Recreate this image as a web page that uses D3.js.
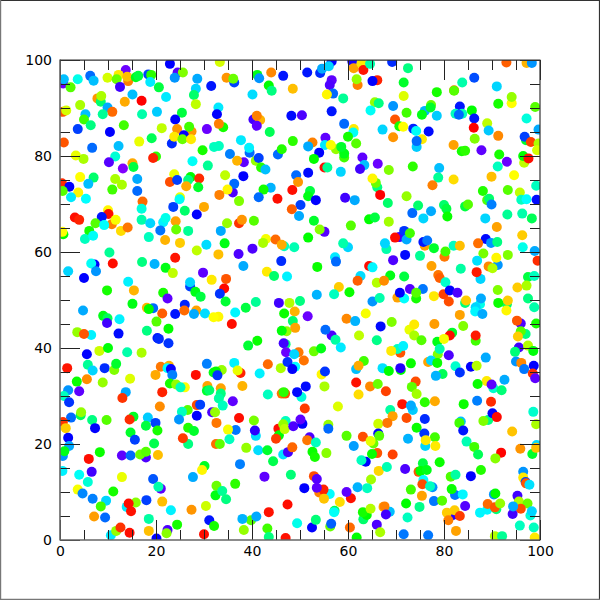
<!DOCTYPE html>
<html><head><meta charset="utf-8">
<script src="https://cdn.jsdelivr.net/npm/d3@7"></script>
<style>html,body{margin:0;padding:0;background:#fff}svg{display:block}</style></head>
<body><div id="c"></div>
<script>
// each entry: [x, y, colour value (hue degrees, 0 = red ... 270 = violet)]
const regionTopLeft=[[.7,95.1,265],[.8,96,195],[2.2,94.3,100],[3.7,96,175],[6.3,96.7,215],[7,95.7,195],[9.9,96.3,70],[13.7,97.9,265],[12.2,96.9,55],[14.2,95.6,30],[14,96.5,45],[11.8,96,95],[12.5,94.4,255],[15.8,96.4,125],[16.3,96.7,135],[18.4,97,225],[19,96.9,110],[18.8,95.4,185],[20.6,94.3,135],[22.9,99.2,240],[24.5,97.4,260],[25.6,97.4,90],[23.9,96.3,205],[28.6,96.1,200],[31.5,94.6,235],[28.3,94,190],[27.9,92.7,145],[28.3,90.8,75],[22.1,92.3,185],[15.1,92.8,195],[17,91.5,0],[13.5,91.3,40],[7.8,92,35],[8.5,91.3,145],[8.6,92.5,80],[4.2,90.6,80],[9.9,90.1,200],[10.9,89.2,25],[8.9,88.7,155],[5.3,88.7,195],[5,87.6,105],[6.4,86.4,150],[3.7,85.6,225],[10.4,85,240],[13.3,86.4,105],[17.1,88.7,160],[20.2,89.2,192],[25.4,89,135],[24,87.6,240],[21.2,85.8,75],[.6,89.2,20],[1.3,89.5,70],[.8,82.8,20],[6.7,81.7,215],[12.2,82.1,195],[16.5,83,65],[19.1,83.7,140],[23.3,82.6,230],[24.4,85.6,35],[27.4,85.1,35],[26.9,86.1,105],[25.8,84.3,240],[23.8,84,55],[25.5,83.5,95],[27.3,83.5,55],[29.7,81.2,115],[30.6,85.6,265],[32.1,81.9,165],[3.3,80.1,65],[4.9,79.4,80],[11.5,79.9,170],[10.2,78.7,260],[13.1,77.4,270],[15.1,78.5,40],[15.3,77.7,135],[20,79.9,110],[19.4,79.6,8],[27.6,78.9,178],[30.8,78,155],[4.2,75.6,60],[7,75.5,145],[5.9,74.2,195],[11.5,75.2,80],[12.9,74,80],[10.9,73,105],[16.1,75.2,200],[16.1,72.7,215],[23.8,76.2,65],[22.9,74.6,18],[24.4,75,225],[27.2,75.6,120],[26.7,75,150],[29,75.3,10],[26.3,73.7,40],[28.8,73.5,130],[.4,74.3,10],[1.95,73.6,240],[.56,72.7,100],[3.8,72.4,58],[2.3,71.4,185],[5.4,71.1,180],[17.2,70.5,25],[17,69,172],[25,71.4,65],[24.9,71,178],[23.6,69.4,225],[26,68.6,145],[28.5,67.8,240],[30,69.4,40],[10,68.7,58],[10.1,67.9,3]];
const regionTopMiddle=[[33.3,99.6,70],[36.3,95.3,225],[34.7,96.3,35],[36.1,96.1,95],[41.1,96.9,125],[41.5,96.2,205],[44,97.4,32],[46.5,96.7,235],[51.5,97.4,235],[56.6,99.7,240],[54.2,97.3,230],[54.6,98.2,200],[56,98.7,190],[60.9,99.7,245],[61.2,98.3,38],[62.8,99.3,55],[63.2,97.9,5],[64.6,99.2,160],[66.1,95.8,8],[65.1,95.6,240],[62,94.8,30],[61.8,96,85],[56.6,95.8,262],[56.2,94.8,258],[56.9,93,215],[55.6,92.8,58],[59,92,155],[65.6,91.2,85],[66.4,91,150],[64.7,89.5,178],[43.5,94.7,120],[44.1,93.6,150],[40.1,92.8,188],[48.5,94,45],[56.6,89.3,235],[48.2,88.4,238],[50.4,88.5,258],[33,90.1,185],[32.7,88.7,240],[34,86,115],[33.1,86.7,30],[40.3,87.6,255],[41.7,87.5,42],[41,88.4,30],[41,86.3,262],[43.7,85,140],[59.2,86.7,215],[61.2,85.6,55],[61.1,84.9,178],[60,84,115],[61.7,82.6,100],[37.7,83.3,185],[33.1,82.1,165],[39.5,80.7,215],[39.4,81.7,183],[35.4,80.4,210],[38.3,78.7,262],[36.9,79,42],[40.8,79,85],[41.4,79.6,225],[45.4,80.3,215],[46.2,81.4,112],[48.5,83.1,110],[52.6,82.8,30],[51.7,82,200],[55.3,83.8,262],[55.2,82.3,185],[57.5,81.4,85],[56.4,82.3,62],[59.2,79.7,105],[59.2,80.5,125],[58.6,81.9,130],[54,80.7,240],[52.9,79.4,120],[63,79.7,262],[66.2,78.4,265],[63.4,78.1,195],[62.5,77.3,255],[41.9,77.6,110],[42.8,77.2,195],[38.2,75.8,240],[34.4,76,75],[36,72.4,258],[36.3,74.2,215],[34.9,73,58],[33.2,71.9,30],[37.3,70.6,90],[49.2,76,215],[49.6,74.6,35],[51.7,76.5,238],[55.1,77.6,3],[55.7,77.6,155],[58.5,76.7,190],[66.1,73.5,150],[65.8,74.4,95],[65.1,75.3,58],[66.7,71.9,0],[43.9,73.4,198],[42.4,73,115],[41.4,71.4,215],[45.3,71.1,3],[48.4,72.9,3],[52.1,72.7,135],[51.7,71.6,125],[53.3,70.8,240],[59.4,71.3,255],[61.4,70.8,200],[50.1,69.8,225],[48.3,68.9,22]];
const regionTopRight=[[69.2,99.6,230],[72.5,98.3,150],[93,99.5,22],[97.2,99.4,42],[98.3,99.4,205],[86.3,96.3,222],[83.8,95.3,160],[71.6,95.3,130],[91,94.5,190],[78.5,93.3,115],[82.1,93.7,30],[82.1,93.6,100],[94.1,91,60],[94.1,92.3,85],[71.6,92.5,68],[91.3,90.9,115],[69.4,90.4,205],[76,89.4,198],[77.3,90.6,95],[77.2,90.1,130],[75.4,88.6,125],[78.5,88.4,192],[72.2,89,105],[83.3,90.3,235],[85.8,89.5,120],[82.4,88.8,165],[83.8,88.8,165],[83.1,88.6,215],[86.3,87.8,235],[99,90.2,100],[97.2,87.8,172],[89,86.8,75],[86.2,85.9,0],[89.3,85.3,193],[91.3,84.2,32],[69.8,87.6,20],[70.7,86.2,115],[71.5,86.1,60],[67.2,85.5,190],[73.6,85.7,232],[74.2,85.2,178],[76.8,85.1,238],[69.4,83.9,35],[75.4,83.5,55],[74.3,81.9,192],[74.3,83.1,215],[86.4,83.6,90],[97.1,83.3,130],[96.8,84,225],[98.1,82.9,15],[99.7,85.5,200],[99.7,82.6,80],[99.4,81.2,70],[82,82.3,38],[83.7,81,115],[84.4,81.1,110],[87.8,81.2,262],[91.5,80.3,115],[96.7,78.6,75],[96.5,80,120],[97.6,79.5,3],[93.1,78.8,265],[91.2,77.8,165],[73.5,77.8,110],[68.5,77.1,90],[79,77.5,195],[78.8,75.5,155],[82,75.1,52],[89.9,75.7,45],[94.6,76,60],[77.6,73.9,30],[88.1,72.7,112],[93.3,72.9,100],[99.2,73.8,165],[95.8,72.4,75],[96.1,70.9,165],[97.2,71,180],[99.3,70.9,238],[72.2,71.6,85],[89,70.8,100],[89.4,71.1,145],[89.9,69.9,210],[68.3,70.2,145],[74.6,69.7,145],[80,69.8,145],[80.5,69,135],[84.4,69.5,135],[85,69.9,100],[77.3,68.5,200],[73.4,68.1,215],[93.2,67.8,155],[96.3,68,160]];
const regionMidLeft=[[3.1,67.2,3],[4,66.7,8],[8.7,67.3,235],[7.4,66,100],[10.8,65.8,30],[9.2,65.6,180],[11.6,66.7,62],[17,66.7,160],[18.8,66,190],[21.5,66.2,183],[22,67.1,175],[24.1,66.4,38],[24.2,64.7,95],[20.9,64.5,213],[26.7,64.4,155],[12.7,64.4,52],[14.1,65.1,28],[6.1,64.4,115],[5.2,62.7,165],[6.9,63.4,178],[18.5,63.1,165],[21.9,62.5,42],[25,61.9,48],[28.5,60.3,75],[30.5,61.5,188],[.7,63.7,120],[.5,64.2,60],[10.3,59.9,155],[17.1,57.9,150],[11,57.6,3],[7.2,57.4,240],[6.5,57.6,178],[7.5,56,205],[1.7,56,190],[5,54.6,240],[19.7,57.5,198],[22,56.7,125],[23.5,55.6,75],[24,58.8,5],[29.8,55.7,262],[31.6,54.2,55],[27.1,52.8,225],[27.1,53.7,190],[28.2,51.7,125],[29.3,50.7,135],[14.2,53.8,183],[15.4,52,42],[9.8,52,115],[21.5,51.5,115],[22.4,50.3,262],[15.1,49.2,125],[4.8,47.8,200],[18.1,48.4,42],[19.4,48.3,215],[18.5,48.1,120],[21.3,47.2,22],[24,47.1,235],[26,49,232],[25.9,47.8,25],[28.4,47.8,38],[27.9,47.1,200],[30.2,47.2,188],[9,46.7,125],[9.9,46.2,140],[9.8,45.2,255],[12.4,46,183],[20.1,45.5,100],[18.1,43.6,150],[22.6,44,120],[12.2,43,238],[20.3,42.1,235],[20.6,41.9,230],[22.6,41,228],[3.6,43.3,85],[6.5,42.7,183],[5,42.9,20],[5.6,38.7,240],[8.2,39.4,72],[10,40,122],[14,39.1,160],[17,39,80],[30.6,36.7,210],[5.8,36.5,155],[6.8,35.3,190],[9.3,35.8,230],[1.5,35.8,5],[11.3,35.4,90],[11.7,36.7,130],[21,36.1,28],[22.7,36.3,42],[22.4,35.8,180],[23.1,35.6,242],[23.4,34.4,210],[19.9,34.4,40],[28.3,34.4,3],[32,34.9,125],[5.6,33.5,33],[14.6,33.6,68]];
const regionCentre=[[49.8,67.5,200],[34.8,66,85],[37.3,66,12],[37.9,66.7,35],[40.4,66.5,100],[33.5,64.4,200],[52.9,66.5,130],[55.1,64.2,260],[54.1,64.7,88],[60.6,65.5,100],[64.4,66.8,120],[65.6,67.2,135],[34.3,61.8,125],[42.9,62.7,62],[42.3,61.9,80],[44.9,62.6,25],[46.7,61.2,165],[46.2,61.5,40],[48.8,61,162],[51.7,63,120],[60,61,190],[59,61.8,160],[33,59.5,45],[37.2,59.6,258],[40.1,60.7,258],[46.1,58.1,230],[38.2,57.1,200],[53.6,56.9,118],[57.3,58.9,185],[57.5,58,215],[64.4,57.1,3],[65.1,56.8,182],[43.1,55.9,55],[44.6,55,145],[47.3,54.9,183],[34.6,54.4,20],[34.2,52.4,2],[33.3,51.3,228],[34.5,49.7,132],[62.6,55,188],[62,54,22],[66,53.6,78],[58.1,52.7,48],[60.3,51.6,118],[57.1,51.2,165],[53.5,51.1,198],[65.1,49.7,205],[66.6,50.4,160],[40.8,49.6,155],[38.7,48.4,135],[36.5,47.4,182],[33,46.5,58],[32,46.4,60],[35.8,45,3],[45.6,49.4,255],[47.8,49.4,78],[50,49.8,150],[46.7,47.2,118],[48.9,47.6,42],[51.6,46.6,265],[48.5,45.6,145],[63.7,47.2,62],[59.7,46.1,32],[61.5,45.6,198],[66.8,44.5,238],[47.2,43.5,85],[46.2,43.6,122],[49,44.2,38],[56.6,42.6,258],[55.3,43.8,215],[57.4,41.7,158],[58.5,40.1,185],[62.3,42.6,75],[66,41.6,152],[41.1,41.5,118],[39.2,40.5,132],[47,40.8,150],[46.6,41,255],[49.7,39.1,28],[47.1,39.1,265],[48.8,38.7,190],[52.9,39.3,95],[54.4,39.9,125],[50.8,37.4,27],[46,35.8,80],[49,36.1,180],[47.4,37.1,228],[48.4,35.6,240],[43.3,36.6,25],[36.3,36.9,183],[37.6,34.8,8],[37,35.3,65],[41.6,34.7,183],[33.7,35.4,85],[32.5,35.1,120],[32.8,34.3,228],[63.3,37.3,105],[61.7,35.6,195],[62.2,36.3,40],[54.5,34.5,58],[55.2,35.1,228]];
const regionMidRight=[[68.5,66.3,82],[75.7,67,190],[80.7,67.4,118],[88.6,67,190],[98.3,67,140],[91,65.2,38],[96.3,63.5,48],[96.4,61,175],[70.7,63.1,255],[71.7,64.4,228],[72.2,62.6,200],[72.9,63.9,105],[69.8,63,2],[68,60.6,160],[67.7,61.8,190],[76,61.3,38],[75.7,62.1,235],[76.5,62.4,212],[77.9,60.8,130],[82,61.3,165],[83.3,61.3,45],[80.1,59,28],[80.3,60.1,105],[88.7,62.7,238],[89.8,61.9,205],[87.1,61.8,26],[91.1,62.1,150],[88.2,59.7,92],[93.3,59.4,90],[91.2,57.3,205],[89.3,57,32],[90.9,58.8,58],[98.9,60.2,200],[99.5,58.2,10],[71.9,59.4,238],[69.4,58.3,258],[75,59.2,155],[77.4,57.1,38],[83.5,56.5,158],[86.9,58.2,187],[87.6,54.4,190],[86.8,55.8,6],[90.1,56.6,78],[68.8,55.1,125],[67.5,54,33],[71.7,54.9,135],[78.8,55.2,28],[79.1,54.6,22],[80.3,53.7,168],[97.5,54.8,135],[98.8,55,165],[95.3,52.6,48],[97.2,53,80],[91.2,52.1,90],[72.9,52.3,260],[75.6,52.3,212],[70.3,50.5,38],[71.7,50.3,180],[70.8,51.5,240],[74.2,50.3,115],[74.2,51.5,100],[77.9,50.8,55],[79.9,51.2,15],[81,49.7,18],[81.2,52,240],[82.8,51.5,258],[84.4,49.4,148],[84.6,49.9,48],[87.5,49.1,175],[87.7,50.3,200],[86.6,48.5,190],[86.5,47.6,182],[88,47.1,200],[93.1,49.1,145],[91.3,49.4,118],[93.3,49.9,48],[93,47.8,58],[97.5,50.3,150],[98.8,48.5,160],[83.3,46.9,38],[84,44.6,90],[78,45,37],[69.1,45.4,90],[72.8,43.8,65],[73.8,44.9,55],[73.8,42.6,80],[75.3,41.6,100],[81.7,43.2,130],[81.2,42.6,3],[78.6,41.3,125],[80,41.9,62],[86.6,41.5,105],[86.6,42.6,6],[96,45.1,258],[95.2,45.7,20],[97,42.9,150],[96,43.5,100],[95.4,42.4,48],[99.2,45.1,115],[70.9,39,20],[70.3,39.8,165],[69,39.4,55],[71.5,40.4,183],[78.7,38.7,90],[79.1,39.8,160],[81,38.5,258],[76.7,37.1,38],[77.3,37.4,190],[78.6,36.9,118],[73.1,36.8,118],[82.4,36.2,168],[88.7,38,200],[95.6,40.1,255],[97.5,40.5,78],[94.8,39.2,148],[98.6,39.4,122],[95,37.2,205],[96.1,36.9,32],[98.7,36.3,240],[96.7,35.6,212],[98.5,34.7,12],[99,33.7,262],[67.2,35.8,187],[68.5,35.2,120],[71,35.4,120],[70.9,35.8,248],[79.7,34.6,140],[78.3,34.2,198],[83.3,34.9,228],[85.6,36.1,240],[86.8,36.3,78],[92.6,33.4,200]];
const regionBottomLeft=[[3.5,33,118],[8.9,32.8,85],[1.7,31.2,205],[4,31,262],[.8,30,165],[1.9,28.7,228],[13.7,30.8,200],[13,29.6,12],[21.3,30.8,8],[20.8,27.8,33],[22.9,32.6,115],[24.2,32.4,85],[26,31.8,60],[25.1,31.8,165],[30.7,32.1,38],[30.6,31.1,130],[31.1,31.2,145],[28.5,28.1,18],[29.2,28.2,225],[4.3,26,140],[4.4,26.6,85],[2.3,25.5,215],[26.6,27.1,100],[25.4,26.7,165],[28.5,25.9,240],[24.8,25.1,205],[31.7,26.6,258],[32.3,26.6,85],[32.6,24.4,28],[6.7,25,150],[9.7,25,100],[7.3,23.3,240],[.6,24.6,12],[1.2,23.3,48],[1.7,21.3,240],[15.3,25.7,128],[14.5,25.1,10],[18.3,25.5,192],[17.9,23.8,135],[19.9,24.4,225],[20.3,22.8,115],[14.7,22.4,130],[15.6,20.9,225],[26.7,23.4,112],[27.9,22.7,130],[26.7,20,150],[25.6,21.2,14],[19.6,20.1,138],[32.5,20,25],[1.9,19.6,200],[.6,17.5,205],[.9,18.5,125],[8.3,18.3,118],[6,16.9,3],[12.9,17.6,262],[14.7,17.6,215],[17.9,17.2,258],[16.7,17.8,95],[17.9,18.4,100],[20.4,17.7,45],[30.1,15.4,128],[29.6,14.6,58],[27.7,13.1,200],[.5,14.4,183],[4,13.6,178],[6.6,14.2,255],[5.8,12.1,170],[12.9,13.1,65],[19.4,12.7,220],[21,10.7,262],[20.5,11.1,160],[3.7,10.5,62],[4.7,9.7,208],[11.1,10.1,115],[32.6,11.3,95],[32.4,9.3,125],[6.8,8.6,210],[9.6,8.2,190],[8.5,7,105],[18,8.3,225],[21.3,8,45],[15.8,7.8,88],[13.9,6.9,185],[14.8,6,4],[14.3,7.6,3],[23.1,6.2,183],[30.4,7.1,72],[27.4,6.3,35],[7.1,4.9,37],[9.4,4.7,215],[18.5,4.4,158],[31.1,4.1,235],[32.1,2.9,115],[24.4,3.2,115],[22.4,2.1,258],[22.2,1.4,88],[10.6,1,185],[11.7,1.9,85],[12.6,2.6,12],[14.5,1.5,3],[18.5,1.9,45],[20.1,.3,240],[30,1.2,3]];
const regionBottomMiddle=[[38,32.1,42],[33.5,31.6,38],[33.5,30.5,150],[33.1,29.5,158],[33.9,28,165],[36,28.9,262],[43.3,30.3,165],[46.2,30.5,28],[46.9,30.5,18],[46.6,30.8,110],[50.3,29.8,172],[49.4,30.8,238],[51.2,32,238],[55.1,32,80],[61.7,32.8,4],[64.6,32,32],[66.2,32.5,95],[62.2,30.3,52],[57.9,27.8,68],[51,27.4,14],[37.3,25.4,3],[40.4,24.9,92],[40.8,21.7,188],[40.6,22.8,250],[36.6,22.9,212],[35,23,62],[35.3,21,165],[33.3,20,98],[38.8,19.2,85],[41.3,18.7,188],[43.2,18.7,130],[44.4,16.4,138],[37.5,15.8,210],[47,24.8,165],[45.5,23.2,3],[45.6,21.8,120],[45,21.1,14],[46.5,24.1,85],[46.8,23.1,75],[48.6,23.7,258],[50.5,24.2,240],[50.1,25.1,262],[55.9,24,85],[55.9,23.2,215],[66.3,24.2,72],[66.3,22.2,240],[66.5,21.7,100],[63.1,21.5,18],[59.7,21.7,100],[61.2,19.6,203],[66.1,18.1,20],[65.3,20.1,95],[64.7,20.6,66],[65,17.9,118],[63.7,16.3,240],[62.8,16.6,165],[52,21.4,258],[51.5,20.8,28],[53.3,20.3,165],[46.5,17.8,187],[47.5,18.3,255],[48.4,19.3,24],[52.6,18.4,118],[53.1,17.3,115],[55.5,18.1,88],[66.4,14.4,50],[64.8,12.6,82],[42.6,13.2,262],[48.1,13.6,148],[52.9,13.3,18],[53.5,12.7,260],[56.2,9.6,180],[54,9.9,30],[54.9,10.5,8],[53.5,10.9,262],[50.9,10.8,240],[55,8.6,46],[60.6,8.7,4],[59.7,10,262],[62,11,198],[64,10.8,165],[58.3,7.9,52],[36.5,11.7,110],[33.8,10.2,155],[34.6,8.5,150],[47.4,7.4,3],[43.5,5.8,4],[57.2,6.1,140],[57.1,5.8,178],[39.8,4.1,100],[38,4.4,198],[40.9,4.9,200],[38.3,2.1,85],[43.2,2.4,105],[43.5,.6,150],[47,.4,4],[49.4,3.5,175],[52.5,2.6,240],[53.3,4.2,148],[56.3,2.8,95],[56.5,3.4,218],[60.4,2.6,25],[61.8,.5,120],[63.2,4.3,145],[63.9,5.2,120],[63.1,5.8,115],[64.7,6.5,78],[67.4,6.9,42],[66,3.2,258],[66.7,1.6,80]];
const regionBottomRight=[[74.1,33,18],[73.3,31.9,98],[74.3,30.4,82],[67.9,31,15],[88.9,33.1,55],[87,32.5,118],[90.3,31.6,168],[89.9,32.4,262],[92,31.2,148],[86.9,29,210],[89.8,28.8,10],[84.1,28.3,118],[76,28.7,110],[78.1,28.9,40],[71.3,28.3,4],[73.5,27.1,192],[73.1,28,200],[68.8,27.1,158],[69.3,25.8,38],[72.2,25.4,18],[68.2,24.4,28],[76,25.2,230],[74.3,23.4,118],[75.9,22.2,228],[76.1,19.6,190],[78.1,21.4,105],[78.2,19.6,55],[76.2,20.8,55],[72.5,21.1,198],[83.5,24.7,195],[83.2,24.4,105],[84,22.8,235],[89.2,25,150],[88.2,24.8,90],[90.1,26.4,240],[91,25.6,2],[98.6,26.7,168],[99.2,24.1,80],[94.2,22.6,46],[84.7,20.5,162],[86.3,19.4,105],[87.1,17.8,140],[95.9,19,35],[99.3,19.8,188],[98.4,17.9,130],[99.2,19.2,45],[91.9,18.2,1],[90.7,17,88],[69.3,17.8,15],[79.1,16.2,118],[75.6,16,135],[68.1,15.2,162],[71.9,14.8,258],[74.7,14.2,20],[75.1,14.4,120],[76.4,14.6,125],[87.7,14.6,112],[96.5,14.2,205],[96.5,13,55],[85.6,13.3,240],[81.4,13.2,102],[82.4,13.6,158],[75.7,12.5,180],[75.5,11.6,18],[77.6,11,205],[77.1,11.2,165],[73.1,10.5,105],[82.3,9.4,212],[81.6,10.6,118],[83.9,9.5,182],[75.4,9.2,38],[97,12.1,225],[97.1,11.8,20],[97.8,11.5,187],[90.4,9.5,205],[90.7,9.7,120],[95.3,9.2,255],[77.9,8.1,212],[79.6,8.2,100],[72.1,7.6,120],[74.9,6.9,152],[68.7,5.9,195],[67.6,7,30],[67.9,5.3,255],[72.4,4.7,165],[84.4,7.1,260],[81.9,5.2,250],[80.6,5.7,48],[82.2,6.2,48],[83.3,5,14],[80.9,4.1,30],[82.5,1.9,38],[87.5,5.7,182],[89,6.3,182],[90.9,6.4,148],[89.1,7.5,25],[90.6,6.8,20],[91.7,7.6,85],[95.6,8,78],[97.4,7.6,95],[96,6.5,18],[94.3,5.4,255],[94.4,7,200],[98,5.1,170],[98.3,6,190],[95.8,3,165],[98.7,2.6,165],[98.9,.5,55],[71.6,1.2,212],[76.7,1,212],[90.6,.8,78],[92.1,.8,155]];

const xTicks=[0,20,40,60,80,100];
const yTicks=[0,20,40,60,80,100];
const minorTicks=d3.range(0,101,5);
const points=[...regionTopLeft,...regionTopMiddle,...regionTopRight,...regionMidLeft,...regionCentre,...regionMidRight,...regionBottomLeft,...regionBottomMiddle,...regionBottomRight];

const W=600,H=600,L=60,R=540,T=60,B=540;
const x=d3.scaleLinear().domain([0,100]).range([L,R]);
const y=d3.scaleLinear().domain([0,100]).range([B,T]);
const svg=d3.select('#c').append('svg').attr('width',W).attr('height',H);
svg.append('rect').attr('width',W).attr('height',H).attr('fill','#fff');
function edge(x1,y1,x2,y2,c,w){svg.append('line').attr('x1',x1).attr('y1',y1).attr('x2',x2).attr('y2',y2).attr('stroke',c).attr('stroke-width',w);}
edge(0,.5,W,.5,'#333',1.2);edge(W-.5,0,W-.5,H,'#333',1.2);edge(.5,0,.5,H,'#777',1.4);edge(0,H-.5,W,H-.5,'#777',1.4);
svg.append('clipPath').attr('id','plot').append('rect').attr('x',L).attr('y',T).attr('width',R-L).attr('height',B-T);
svg.append('g').attr('clip-path','url(#plot)').selectAll('circle').data(points).join('circle')
  .attr('cx',d=>x(d[0])).attr('cy',d=>y(d[1])).attr('r',5)
  .attr('fill',d=>d3.hsl(d[2],1,.5).formatHex());
function ticks(gen,tr){
  const g=svg.append('g').attr('transform',tr).call(gen);
  g.select('.domain').remove();
  g.selectAll('line').attr('stroke','#222').attr('stroke-width',1);
  g.selectAll('text').attr('font-family','"DejaVu Sans"').attr('font-size',14).attr('fill','#000');
  return g;
}
const minor=[minorTicks.filter(v=>!xTicks.includes(v)),10],major=[xTicks,20];
for(const [vals,len] of [minor,major]){
  const lab=len===20;
  ticks(d3.axisBottom(x).tickValues(vals).tickSize(-len).tickPadding(lab?6:0).tickFormat(lab?d3.format('d'):''),`translate(0,${B})`);
  ticks(d3.axisLeft(y).tickValues(vals).tickSize(-len).tickPadding(lab?8:0).tickFormat(lab?d3.format('d'):''),`translate(${L},0)`);
  ticks(d3.axisTop(x).tickValues(vals).tickSize(-len).tickFormat(''),`translate(0,${T})`);
  ticks(d3.axisRight(y).tickValues(vals).tickSize(-len).tickFormat(''),`translate(${R},0)`);
}
edge(L,T-.6,L,B+.6,'#666',1.6);edge(L,B,R,B,'#666',1.6);edge(L,T+.2,R+.5,T+.2,'#333',1.2);edge(R,T,R,B+.6,'#333',1.2);
</script></body></html>
